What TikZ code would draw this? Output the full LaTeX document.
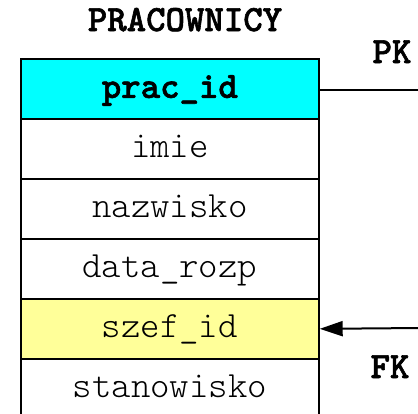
\documentclass[tikz,border=0pt]{standalone}
\usepackage{fontspec}
\setmonofont{lmmonolt10-regular.otf}
\newfontfamily\keyfam{lmmonolt10-bold.otf}[FakeBold=1.6]
\usetikzlibrary{arrows.meta}
\definecolor{pkcyan}{HTML}{00FFFF}
\definecolor{fkyellow}{HTML}{FFFF99}
\newcommand{\colfont}{\ttfamily\fontsize{37}{39}\selectfont}
\newcommand{\keyfont}{\keyfam\fontsize{37}{39}\selectfont}
\tikzset{
  field/.style={draw=black, line width=1.7pt, minimum width=298pt, minimum height=60pt,
    inner sep=0pt, anchor=north west, text height=18pt, text depth=0pt, font=\colfont},
  keyfield/.style={field, font=\keyfont},
  tag/.style={font=\keyfont, inner sep=0pt, anchor=base},
  link/.style={line width=2pt}
}
\begin{document}
\begin{tikzpicture}[x=1pt,y=-1pt]
\useasboundingbox (0,0) rectangle (418,413);
\clip (0,0) rectangle (418,413);
% table title
\node[tag] (title) at (185,31) {PRACOWNICY};
% table columns
\node[keyfield, fill=pkcyan] (prac) at (20,58) {prac\_id};
\node[field] (imie) at (20,118) {imie};
\node[field] (nazw) at (20,178) {nazwisko};
\node[field] (data) at (20,238) {data\_rozp};
\node[field, fill=fkyellow] (szef) at (20,298) {szef\_id};
\node[field] (stan) at (20,358) {stanowisko};
% primary key reference
\coordinate (pkend) at (420,90);
\draw[link] (prac.east |- pkend) -- (pkend);
\node[tag] (pk) at (392,63) {PK};
% foreign key reference
\coordinate (fkend) at (420,328);
\draw[link, -{Triangle[length=23pt,width=15pt]}] (fkend) -- (szef.east);
\node[tag] (fk) at (390,378) {FK};
\end{tikzpicture}
\end{document}
